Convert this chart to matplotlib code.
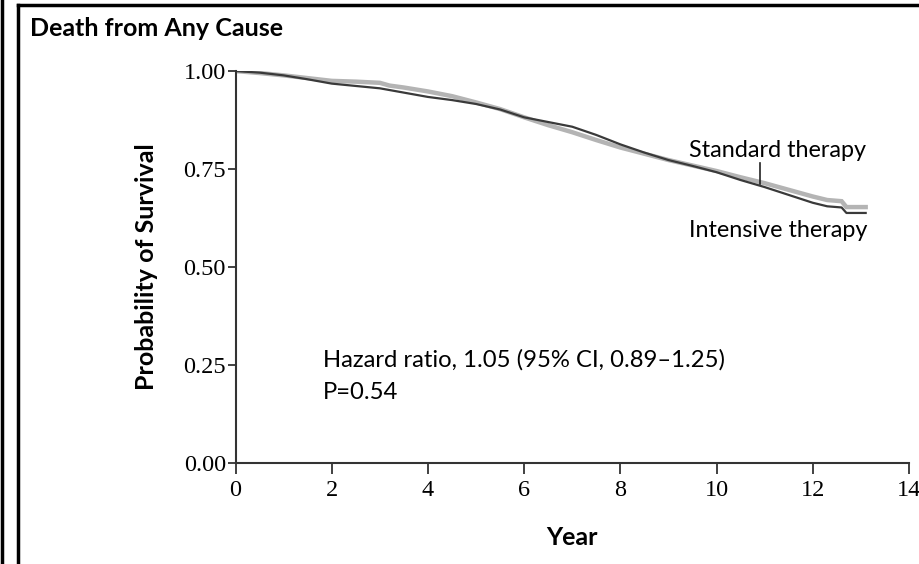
import matplotlib
matplotlib.use("Agg")
import matplotlib.pyplot as plt
from matplotlib.lines import Line2D

# Kaplan-Meier estimates, death from any cause
std_years = [0, 0.5, 1, 1.5, 2, 2.5, 3, 3.2, 3.5, 4, 4.5, 5, 5.5, 6, 6.5, 7, 7.5,
             8, 8.5, 9, 9.5, 10, 10.5, 11, 11.5, 12, 12.3, 12.6, 12.7, 13.1]
std_surv = [1.000, 0.995, 0.989, 0.982, 0.975, 0.973, 0.970, 0.963, 0.958, 0.948,
            0.936, 0.920, 0.903, 0.882, 0.862, 0.844, 0.824, 0.805, 0.789, 0.773,
            0.759, 0.745, 0.729, 0.714, 0.697, 0.680, 0.671, 0.668, 0.653, 0.653]

int_years = [0, 0.5, 1, 1.5, 2, 2.5, 3, 3.5, 4, 4.5, 5, 5.5, 6, 6.5, 7, 7.5,
             8, 8.5, 9, 9.5, 10, 10.5, 11, 11.5, 12, 12.3, 12.6, 12.7, 13.1]
int_surv = [1.000, 0.996, 0.989, 0.979, 0.968, 0.962, 0.956, 0.945, 0.934, 0.926,
            0.916, 0.902, 0.882, 0.870, 0.858, 0.837, 0.813, 0.792, 0.773, 0.758,
            0.742, 0.722, 0.704, 0.684, 0.664, 0.655, 0.652, 0.638, 0.638]

x_ticks = [0, 2, 4, 6, 8, 10, 12, 14]
y_ticks = [0.0, 0.25, 0.5, 0.75, 1.0]
y_ticklabels = ["0.00", "0.25", "0.50", "0.75", "1.00"]

sans = ["Lato", "DejaVu Sans"]
serif = ["Liberation Serif", "DejaVu Serif"]

fig = plt.figure(figsize=(9.2, 5.64), dpi=100)
ax = fig.add_axes([0.256, 0.179, 0.732, 0.695])

ax.plot(std_years, std_surv, color="#b4b4b4", lw=3.2, solid_joinstyle="miter")
ax.plot(int_years, int_surv, color="#3a3a3a", lw=1.6)

ax.set_xlim(0, 14)
ax.set_ylim(0, 1)
ax.set_xticks(x_ticks)
ax.set_xticklabels([str(t) for t in x_ticks], fontfamily=serif, fontsize=17.5)
ax.set_yticks(y_ticks)
ax.set_yticklabels(y_ticklabels, fontfamily=serif, fontsize=17.5)
ax.tick_params(axis="x", direction="out", length=8, width=1.3, color="#333333", pad=4)
ax.tick_params(axis="y", direction="out", length=6, width=1.3, color="#333333", pad=1)
for side in ["top", "right"]:
    ax.spines[side].set_visible(False)
for side in ["left", "bottom"]:
    ax.spines[side].set_color("#333333")
    ax.spines[side].set_linewidth(1.5)

ax.set_ylabel("Probability of Survival", fontfamily=sans, fontweight="bold",
              fontsize=18, labelpad=18)
ax.set_xlabel("Year", fontfamily=sans, fontweight="bold", fontsize=18, labelpad=18)

ax.text(9.42, 0.798, "Standard therapy", fontfamily=sans, fontsize=16.8, va="center")
ax.text(9.42, 0.592, "Intensive therapy", fontfamily=sans, fontsize=16.8, va="center")
ax.plot([10.9, 10.9], [0.765, 0.712], color="#222222", lw=1.2)

ax.text(1.82, 0.263, "Hazard ratio, 1.05 (95% CI, 0.89\u20131.25)", fontfamily=sans,
        fontsize=17.2, va="center")
ax.text(1.82, 0.181, "P=0.54", fontfamily=sans, fontsize=17.2, va="center")

fig.text(30 / 920, 1 - 28 / 564, "Death from Any Cause", fontfamily=sans,
         fontweight="bold", fontsize=18, va="center")

# panel frame
fig.add_artist(Line2D([2.5 / 920, 2.5 / 920], [0, 1], color="black", lw=2.5))
fig.add_artist(Line2D([17.5 / 920, 17.5 / 920], [0, 1 - 5 / 564], color="black", lw=2.5))
fig.add_artist(Line2D([17.5 / 920, 1], [1 - 5 / 564, 1 - 5 / 564], color="black", lw=2.5))

fig.savefig("out.png", dpi=100)
